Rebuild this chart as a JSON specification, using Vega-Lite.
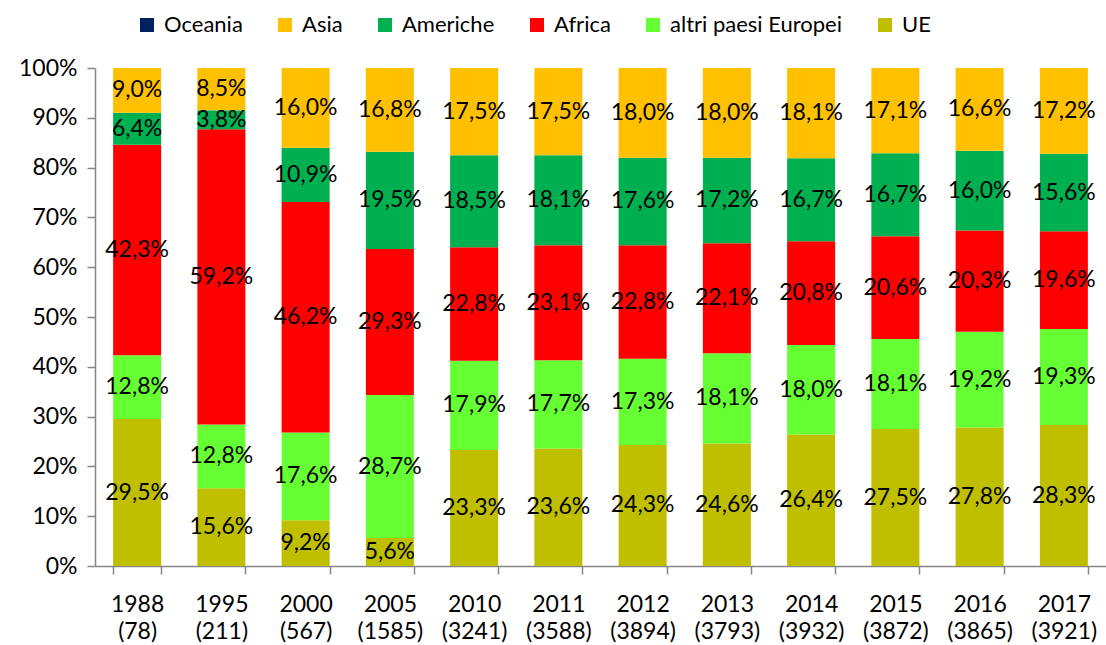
{
  "$schema": "https://vega.github.io/schema/vega-lite/v6.json",
  "width": 1011,
  "height": 498,
  "autosize": {"type": "none"},
  "padding": {"left": 95, "top": 68, "right": 0, "bottom": 79},
  "background": "white",
  "config": {
    "view": {"stroke": null},
    "font": "Lato",
    "legend": {
      "orient": "none",
      "legendX": 41,
      "legendY": -54,
      "direction": "horizontal",
      "columns": 6,
      "symbolType": "square",
      "symbolSize": 196,
      "symbolStrokeWidth": 0,
      "labelFontSize": 22,
      "labelColor": "black",
      "labelOffset": 6,
      "labelLimit": 0,
      "columnPadding": 31,
      "title": null
    }
  },
  "data": {
    "values": [
      {"cat": "1988 (78)", "UE": 29.5, "altri paesi Europei": 12.8, "Africa": 42.3, "Americhe": 6.4, "Asia": 9.0, "Oceania": 0.0},
      {"cat": "1995 (211)", "UE": 15.6, "altri paesi Europei": 12.8, "Africa": 59.2, "Americhe": 3.8, "Asia": 8.5, "Oceania": 0.0},
      {"cat": "2000 (567)", "UE": 9.2, "altri paesi Europei": 17.6, "Africa": 46.2, "Americhe": 10.9, "Asia": 16.0, "Oceania": 0.0},
      {"cat": "2005 (1585)", "UE": 5.6, "altri paesi Europei": 28.7, "Africa": 29.3, "Americhe": 19.5, "Asia": 16.8, "Oceania": 0.0},
      {"cat": "2010 (3241)", "UE": 23.3, "altri paesi Europei": 17.9, "Africa": 22.8, "Americhe": 18.5, "Asia": 17.5, "Oceania": 0.0},
      {"cat": "2011 (3588)", "UE": 23.6, "altri paesi Europei": 17.7, "Africa": 23.1, "Americhe": 18.1, "Asia": 17.5, "Oceania": 0.0},
      {"cat": "2012 (3894)", "UE": 24.3, "altri paesi Europei": 17.3, "Africa": 22.8, "Americhe": 17.6, "Asia": 18.0, "Oceania": 0.0},
      {"cat": "2013 (3793)", "UE": 24.6, "altri paesi Europei": 18.1, "Africa": 22.1, "Americhe": 17.2, "Asia": 18.0, "Oceania": 0.0},
      {"cat": "2014 (3932)", "UE": 26.4, "altri paesi Europei": 18.0, "Africa": 20.8, "Americhe": 16.7, "Asia": 18.1, "Oceania": 0.0},
      {"cat": "2015 (3872)", "UE": 27.5, "altri paesi Europei": 18.1, "Africa": 20.6, "Americhe": 16.7, "Asia": 17.1, "Oceania": 0.0},
      {"cat": "2016 (3865)", "UE": 27.8, "altri paesi Europei": 19.2, "Africa": 20.3, "Americhe": 16.0, "Asia": 16.6, "Oceania": 0.0},
      {"cat": "2017 (3921)", "UE": 28.3, "altri paesi Europei": 19.3, "Africa": 19.6, "Americhe": 15.6, "Asia": 17.2, "Oceania": 0.0}
    ]
  },
  "transform": [
    {"fold": ["UE", "altri paesi Europei", "Africa", "Americhe", "Asia", "Oceania"], "as": ["area", "v"]},
    {"calculate": "indexof(['UE','altri paesi Europei','Africa','Americhe','Asia','Oceania'], datum.area)", "as": "o"},
    {"stack": "v", "groupby": ["cat"], "sort": [{"field": "o", "order": "ascending"}], "offset": "normalize", "as": ["y0", "y1"]},
    {"calculate": "(datum.y0 + datum.y1) / 2", "as": "mid"},
    {"calculate": "replace(format(datum.v, '.1f'), '.', ',') + '%'", "as": "label"}
  ],
  "encoding": {
    "x": {
      "field": "cat",
      "type": "nominal",
      "sort": null,
      "scale": {"paddingInner": 0.43, "paddingOuter": 0.215},
      "axis": {
        "title": null,
        "labelAngle": 0,
        "labelExpr": "datum.value ? split(datum.value, ' ') : ''",
        "labelFontSize": 23,
        "labelColor": "black",
        "labelLineHeight": 27,
        "labelPadding": 19,
        "tickBand": "extent",
        "tickSize": 8,
        "tickColor": "#868686",
        "tickWidth": 1.5,
        "domainColor": "#868686",
        "domainWidth": 1.5,
        "grid": false
      }
    }
  },
  "layer": [
    {
      "mark": {"type": "bar"},
      "encoding": {
        "y": {
          "field": "y0",
          "type": "quantitative",
          "scale": {"domain": [0, 1]},
          "axis": {
            "title": null,
            "values": [0, 0.1, 0.2, 0.3, 0.4, 0.5, 0.6, 0.7, 0.8, 0.9, 1],
            "format": ".0%",
            "labelFontSize": 23,
            "labelColor": "black",
            "labelPadding": 10,
            "tickSize": 8,
            "tickColor": "#868686",
            "tickWidth": 1.5,
            "domainColor": "#868686",
            "domainWidth": 1.5,
            "grid": false
          }
        },
        "y2": {"field": "y1"},
        "color": {
          "field": "area",
          "type": "nominal",
          "scale": {
            "domain": ["Oceania", "Asia", "Americhe", "Africa", "altri paesi Europei", "UE"],
            "range": ["#002060", "#FFC000", "#00B050", "#FF0000", "#66FF33", "#BFBF00"]
          },
          "legend": {}
        }
      }
    },
    {
      "transform": [{"filter": "datum.area !== 'Oceania'"}],
      "mark": {"type": "text", "fontSize": 23, "color": "black", "baseline": "middle"},
      "encoding": {
        "y": {"field": "mid", "type": "quantitative"},
        "text": {"field": "label"}
      }
    }
  ]
}
